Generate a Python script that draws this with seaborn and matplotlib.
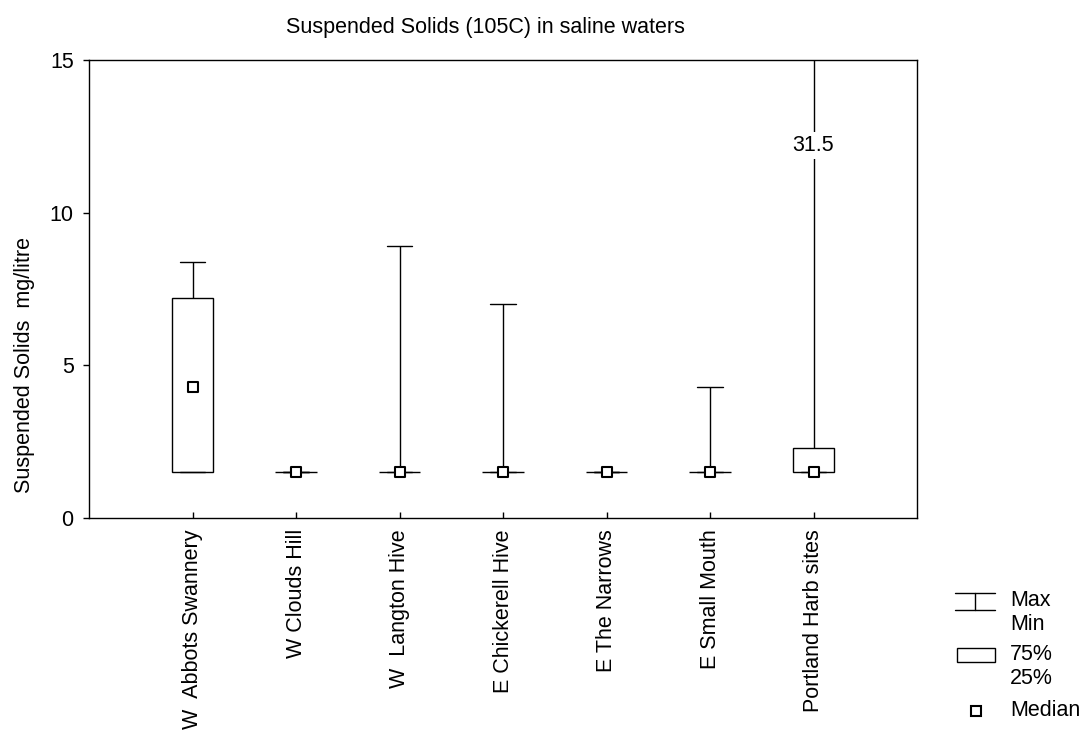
import matplotlib
matplotlib.use("Agg")
import matplotlib.pyplot as plt
from matplotlib.lines import Line2D
from matplotlib.patches import Rectangle
import pandas as pd
import seaborn as sns

# summary statistics per site (mg/litre)
sites = ["W  Abbots Swannery", "W Clouds Hill", "W  Langton Hive", "E Chickerell Hive",
         "E The Narrows", "E Small Mouth", "Portland Harb sites"]
mins = [1.5, 1.5, 1.5, 1.5, 1.5, 1.5, 1.5]
q25 = [1.5, 1.5, 1.5, 1.5, 1.5, 1.5, 1.5]
medians = [4.3, 1.5, 1.5, 1.5, 1.5, 1.5, 1.5]
q75 = [7.2, 1.5, 1.5, 1.5, 1.5, 1.5, 2.3]
maxs = [8.4, 1.5, 8.9, 7.0, 1.5, 4.3, 31.5]

y_ticks = [0, 5, 10, 15]

# five points per site reproduce min / quartiles / median / max exactly
rows = []
for i, s in enumerate(sites):
    for v in (mins[i], q25[i], medians[i], q75[i], maxs[i]):
        rows.append({"site": s, "value": v})
df = pd.DataFrame(rows)

sns.set_style("ticks")
plt.rcParams["font.family"] = ["Liberation Sans", "DejaVu Sans"]
plt.rcParams.update({"text.color": "black", "axes.labelcolor": "black",
                     "xtick.color": "black", "ytick.color": "black"})
FS = 15.5

W, H = 1082, 731
fig = plt.figure(figsize=(W / 100, H / 100), dpi=100)
ax = fig.add_axes([89 / W, (H - 518) / H, 828 / W, 458 / H])

sns.boxplot(data=df, x="site", y="value", order=sites, whis=(0, 100), width=0.4,
            color="white", linecolor="black", linewidth=1, showfliers=False,
            medianprops={"visible": False}, ax=ax)
# narrower whisker caps
for line in ax.lines:
    xd = line.get_xdata()
    if len(xd) == 2 and xd[0] != xd[1]:
        c = (xd[0] + xd[1]) / 2
        line.set_xdata([c - 0.125, c + 0.125])

sns.stripplot(x=sites, y=medians, order=sites, jitter=False, marker="s", size=7.5,
              color="white", edgecolor="black", linewidth=1.5, zorder=5, ax=ax)

# off-scale maximum for Portland
ax.text(sites.index("Portland Harb sites"), 12.2, f"{maxs[-1]:.1f}", ha="center", va="center",
        fontsize=FS, bbox=dict(facecolor="white", edgecolor="none", pad=2), zorder=6)

ax.set_xlim(-1, len(sites))
ax.set_ylim(0, 15)
ax.set_yticks(y_ticks)
ax.set_yticklabels([str(t) for t in y_ticks], fontsize=FS)
ax.set_xticks(range(len(sites)))
ax.set_xticklabels(sites, rotation=90, fontsize=FS, va="top", ha="center")
ax.tick_params(axis="y", direction="out", length=4, width=1, pad=7, right=False)
ax.tick_params(axis="x", direction="in", length=4, width=1, pad=8, top=False)
ax.set_xlabel("")
ax.set_ylabel("Suspended Solids  mg/litre", fontsize=FS, va="center")
ax.yaxis.set_label_coords(-0.078, 0.335)
for sp in ax.spines.values():
    sp.set_visible(True)
    sp.set_color("black")
    sp.set_linewidth(1)

fig.text(485 / W, 1 - 27 / H, "Suspended Solids (105C) in saline waters",
         ha="center", va="center", fontsize=FS)

# legend drawn outside the axes
def fx(px):
    return px / W

def fy(py):
    return 1 - py / H

lk = dict(color="black", linewidth=1, transform=fig.transFigure)
fig.add_artist(Line2D([fx(955), fx(995)], [fy(593), fy(593)], **lk))
fig.add_artist(Line2D([fx(975), fx(975)], [fy(593), fy(610)], **lk))
fig.add_artist(Line2D([fx(955), fx(995)], [fy(610), fy(610)], **lk))
fig.add_artist(Rectangle((fx(957), fy(662)), fx(38), 14 / H, facecolor="white",
                         edgecolor="black", linewidth=1, transform=fig.transFigure))
fig.add_artist(Line2D([fx(976)], [fy(711)], marker="s", markersize=7, markerfacecolor="white",
                      markeredgecolor="black", markeredgewidth=1.5, linestyle="none",
                      transform=fig.transFigure))
for txt, py in [("Max", 601), ("Min", 625), ("75%", 655), ("25%", 679), ("Median", 711)]:
    fig.text(fx(1010), fy(py), txt, ha="left", va="center", fontsize=FS)

fig.savefig("out.png", dpi=100)
